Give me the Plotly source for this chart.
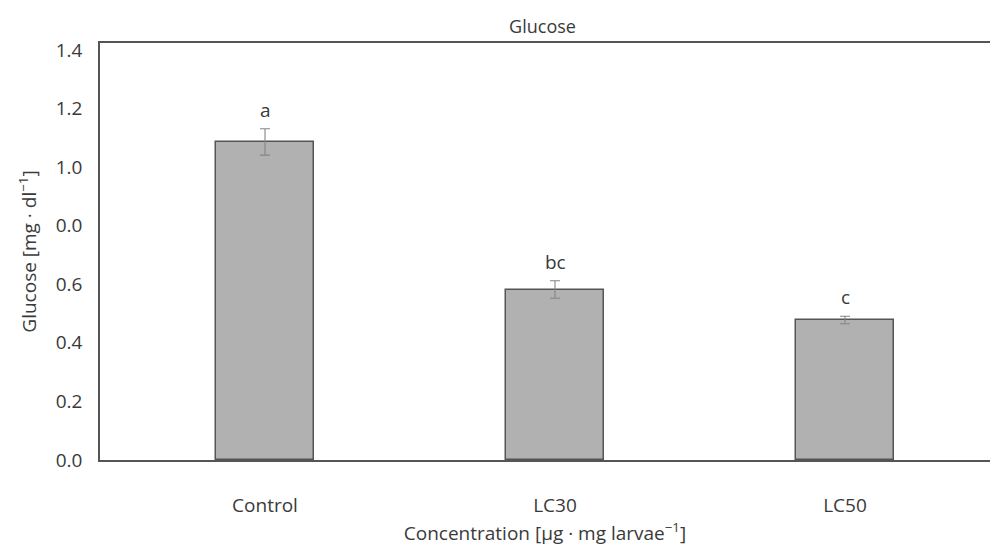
import plotly.graph_objects as go

categories = ["Control", "LC30", "LC50"]
glucose = [1.086, 0.582, 0.478]
errors = [0.045, 0.030, 0.013]
letters = ["a", "bc", "c"]
tick_vals = [0.0, 0.2, 0.4, 0.6, 0.8, 1.0, 1.2, 1.4]
tick_text = ["0.0", "0.2", "0.4", "0.6", "0.0", "1.0", "1.2", "1.4"]

FONT = "Open Sans"
TXT = "#3a3a3a"

fig = go.Figure()
fig.add_trace(go.Bar(
    x=[0, 1, 2], y=glucose, width=0.34,
    marker=dict(color="#b1b1b1", line=dict(color="#555555", width=1.5)),
    error_y=dict(type="data", array=errors, visible=True, color="#858585", thickness=1.1, width=5),
    showlegend=False,
))

for i, (v, e, t) in enumerate(zip(glucose, errors, letters)):
    fig.add_annotation(x=i, y=v + e, text=t, showarrow=False, yanchor="bottom", yshift=4,
                       font=dict(family=FONT, size=19, color=TXT))

fig.update_layout(
    width=990, height=546,
    margin=dict(l=100, r=0, t=43, b=86),
    paper_bgcolor="white", plot_bgcolor="white",
    title=dict(text="Glucose", x=0.548, xanchor="center", y=0.952, yanchor="middle",
               font=dict(family=FONT, size=18, color=TXT)),
    bargap=0,
    xaxis=dict(
        range=[-0.569, 2.5], tickvals=[0, 1, 2], ticktext=categories,
        showline=True, linecolor="#555555", linewidth=1.5, mirror=True,
        showgrid=False, zeroline=False, ticks="", ticklabelstandoff=27,
        tickfont=dict(family=FONT, size=19, color=TXT),
        title=dict(text="Concentration [µg · mg larvae<sup>−1</sup>]", standoff=12,
                   font=dict(family=FONT, size=19, color=TXT)),
    ),
    yaxis=dict(
        range=[0, 1.4237], tickvals=tick_vals, ticktext=tick_text,
        showline=True, linecolor="#555555", linewidth=1.5,
        showgrid=False, zeroline=False, ticks="", ticklabelstandoff=12,
        tickfont=dict(family=FONT, size=19, color=TXT),
        title=dict(text="Glucose [mg · dl<sup>−1</sup>]", standoff=14,
                   font=dict(family=FONT, size=19, color=TXT)),
    ),
)

fig.write_html("out.html")
